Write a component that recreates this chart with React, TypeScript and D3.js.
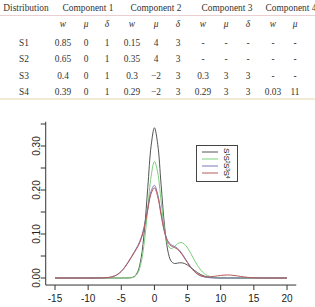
import React from "react";
import * as d3 from "d3";

const xs = [-15, -10, -8, -7, -6.5, -6, -5.5, -5, -4.5, -4, -3.5, -3, -2.5, -2, -1.5, -1, -0.5, 0, 0.5, 1, 1.5, 2, 2.5, 3, 3.5, 4, 4.5, 5, 5.5, 6, 6.5, 7, 7.5, 8, 8.5, 9, 9.5, 10, 10.5, 11, 11.5, 12, 12.5, 13, 13.5, 14, 14.5, 15, 16, 17, 20];

const s1 = [0, 0, 0, 0, 0, 0, 0, 0, 0.00001, 0.00011, 0.00074, 0.00378, 0.01493, 0.04598, 0.11031, 0.20621, 0.30044, 0.3415, 0.30375, 0.21338, 0.12228, 0.06363, 0.03865, 0.03302, 0.03388, 0.03466, 0.03315, 0.02925, 0.02375, 0.01774, 0.01219, 0.00771, 0.00449, 0.0024, 0.00118, 0.00054, 0.00022, 0.00009, 0.00003, 0, 0, 0, 0, 0, 0, 0, 0, 0, 0, 0, 0];
const s2 = [0, 0, 0, 0, 0, 0, 0, 0, 0.00001, 0.00009, 0.00057, 0.0029, 0.01146, 0.03529, 0.08471, 0.15853, 0.23161, 0.26491, 0.23932, 0.17527, 0.11264, 0.07648, 0.0668, 0.07112, 0.0779, 0.08071, 0.07734, 0.06824, 0.05541, 0.04139, 0.02845, 0.01799, 0.01047, 0.0056, 0.00276, 0.00125, 0.00052, 0.0002, 0.00007, 0, 0, 0, 0, 0, 0, 0, 0, 0, 0, 0, 0];
const s3 = [0, 0.00001, 0.00017, 0.00107, 0.00236, 0.0048, 0.00897, 0.01542, 0.02438, 0.03555, 0.0479, 0.06043, 0.07374, 0.09177, 0.12045, 0.16008, 0.19729, 0.21048, 0.18959, 0.14769, 0.10827, 0.08489, 0.07565, 0.07194, 0.06708, 0.05871, 0.04755, 0.0355, 0.02438, 0.01542, 0.00897, 0.0048, 0.00236, 0.00107, 0.00045, 0.00017, 0.00006, 0.00002, 0, 0, 0, 0, 0, 0, 0, 0, 0, 0, 0, 0, 0];
const s4 = [0, 0.00001, 0.00017, 0.00104, 0.00229, 0.00464, 0.00867, 0.0149, 0.02357, 0.03437, 0.0463, 0.05844, 0.07134, 0.0889, 0.11687, 0.15555, 0.19189, 0.20479, 0.18445, 0.14357, 0.10509, 0.08224, 0.0732, 0.06957, 0.06484, 0.05676, 0.04598, 0.03434, 0.02361, 0.01501, 0.00891, 0.00512, 0.00319, 0.00258, 0.00287, 0.00372, 0.00481, 0.00587, 0.00663, 0.00691, 0.00663, 0.00585, 0.00475, 0.00355, 0.00244, 0.00154, 0.0009, 0.00048, 0.00011, 0.00002, 0];

const seriesNames = ["1", "2", "3", "4"];
const seriesValues = [s1, s2, s3, s4];
const seriesColors = ["#555555", "#7ccf7c", "#7a78b8", "#b85a5a"];

const xTicks = [-15, -10, -5, 0, 5, 10, 15, 20];
const yTicks = [0, 0.05, 0.1, 0.15, 0.2, 0.25, 0.3, 0.35];
const yLabels = [0, 0.1, 0.2, 0.3];

// table data
const components = ["Component 1", "Component 2", "Component 3", "Component 4"];
const paramNames = ["w", "μ", "δ", "w", "μ", "δ", "w", "μ", "δ", "w", "μ"];
const rowLabels = ["S1", "S2", "S3", "S4"];
const tableRows = [
  ["0.85", "0", "1", "0.15", "4", "3", "-", "-", "-", "-", "-"],
  ["0.65", "0", "1", "0.35", "4", "3", "-", "-", "-", "-", "-"],
  ["0.4", "0", "1", "0.3", "−2", "3", "0.3", "3", "3", "-", "-"],
  ["0.39", "0", "1", "0.29", "−2", "3", "0.29", "3", "3", "0.03", "11"],
];

const colX = [63, 86, 107, 132, 156, 178, 203, 226, 248, 273, 295];
const compX = [88, 156, 227, 291];
const rowY = [45.5, 61.5, 78.5, 94.5];

export default function App() {
  const x = d3.scaleLinear().domain([-15, 20]).range([55, 287]);
  const y = d3.scaleLinear().domain([0, 0.3]).range([278, 146]);
  const line = d3
    .line<number>()
    .x((_, i) => x(xs[i]))
    .y((d) => y(d))
    .curve(d3.curveCatmullRom.alpha(0.5));

  const left = x(-16.4);
  const right = x(21.4);
  const bottom = y(-0.016);
  const top = y(0.355);
  const serif = "'Liberation Serif', 'DejaVu Serif', serif";
  const sans = "'Liberation Sans', Arial, sans-serif";
  const tc = "#333333";
  const fs = 9.4;

  return (
    <svg
      width={315}
      height={307}
      style={{ position: "absolute", left: 0, top: 0, background: "#fff" }}
    >
      <rect x={0} y={0} width={315} height={307} fill="#fff" />
      {/* table */}
      <text x={26} y={10.5} textAnchor="middle" fontFamily={serif} fontSize={fs} fill={tc}>Distribution</text>
      {components.map((c, i) => (
        <text key={c} x={compX[i]} y={10.5} textAnchor="middle" fontFamily={serif} fontSize={fs} fill={tc}>{c}</text>
      ))}
      <line x1={0} x2={315} y1={15.5} y2={15.5} stroke="#e9cfd2" strokeWidth={1} />
      {paramNames.map((p, j) => (
        <text key={"p" + j} x={colX[j]} y={27} textAnchor="middle" fontStyle="italic" fontFamily={serif} fontSize={fs} fill={tc}>
          {p}
        </text>
      ))}
      {rowLabels.map((r, i) => (
        <g key={r}>
          <text x={24} y={rowY[i]} textAnchor="middle" fontFamily={serif} fontSize={fs} fill={tc}>{r}</text>
          {tableRows[i].map((v, j) => (
            <text key={j} x={colX[j]} y={rowY[i]} textAnchor="middle" fontFamily={serif} fontSize={fs} fill={tc}>{v}</text>
          ))}
        </g>
      ))}
      <line x1={0} x2={315} y1={99} y2={99} stroke="#eee4c6" strokeWidth={1.5} />

      {/* chart */}
      {seriesValues.map((vals, k) => (
        <path key={k} d={line(vals) || ""} fill="none" stroke={seriesColors[k]} strokeWidth={1} />
      ))}
      <g stroke="#333" strokeWidth={1} fill="none">
        <line x1={left} x2={right} y1={bottom} y2={bottom} />
        <line x1={left} x2={left} y1={bottom} y2={top} />
        {xTicks.map((t) => (
          <line key={t} x1={x(t)} x2={x(t)} y1={bottom} y2={bottom + 5} />
        ))}
        {yTicks.map((t) => (
          <line key={t} x1={left - 5} x2={left} y1={y(t)} y2={y(t)} />
        ))}
      </g>
      {xTicks.map((t) => (
        <text key={t} x={x(t)} y={302} textAnchor="middle" fontFamily={sans} fontSize={10} fill="#222">{String(t)}</text>
      ))}
      {yLabels.map((t) => (
        <text
          key={t}
          transform={`translate(40,${y(t)}) rotate(-90)`}
          textAnchor="middle"
          fontFamily={sans}
          fontSize={10}
          fill="#222"
        >
          {t.toFixed(2)}
        </text>
      ))}

      {/* legend */}
      <rect x={196.5} y={145.5} width={41} height={36} fill="#fff" stroke="#444" strokeWidth={1} />
      {seriesNames.map((n, k) => (
        <g key={n}>
          <line x1={202} x2={218} y1={152 + k * 7} y2={152 + k * 7} stroke={seriesColors[k]} strokeWidth={1} />
          <text
            transform={`translate(${224},${148 + k * 7.5}) rotate(90)`}
            fontFamily={sans}
            fontSize={8}
            fill="#222"
          >
            S
            <tspan fontSize={5} dy={-2}>{n}</tspan>
          </text>
        </g>
      ))}
    </svg>
  );
}
